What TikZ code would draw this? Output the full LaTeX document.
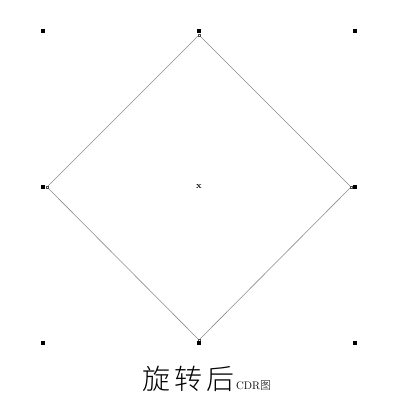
\documentclass[tikz,border=0pt]{standalone}
\usepackage{fontspec}
\newfontfamily\cjk{Noto Sans CJK SC Light}
\usetikzlibrary{positioning}

\begin{document}
\begin{tikzpicture}[x=1pt,y=-1pt,
        handle/.style={rectangle,fill=black,inner sep=0,minimum size=4pt},
        vtx/.style={rectangle,draw=black!70,line width=0.3pt,fill=white,inner sep=0,minimum size=2.5pt},
        side/.style={draw=black!45,line width=0.6pt}]
        \useasboundingbox (0,0) rectangle (400,406);
        % corner vertices of the rotated square
        \coordinate (t) at (199,35);
        \coordinate (r) at (351,187);
        \coordinate (b) at (199,340);
        \coordinate (l) at (47,187);
        \draw[side] (t) -- (r) -- (b) -- (l) -- cycle;
        \node[vtx] (tv) at (t) {};
        \node[vtx] (rv) at (r) {};
        \node[vtx] (bv) at (b) {};
        \node[vtx] (lv) at (l) {};
        % selection handles
        \node[handle] (h1) at (43,31) {};
        \node[handle] (h2) at (199,31) {};
        \node[handle] (h3) at (355,31) {};
        \node[handle] (h4) at (43,187) {};
        \node[handle] (h5) at (355,187) {};
        \node[handle] (h6) at (43,343) {};
        \node[handle] (h7) at (199,343) {};
        \node[handle] (h8) at (355,343) {};
        \node[inner sep=0] (c) at (199,187) {\fontsize{9}{9}\selectfont\bfseries x};
        % caption
        \node[anchor=base west,inner sep=0] (cap) at (142,389) {\cjk\fontsize{28}{28}\selectfont 旋\hspace{4pt}转\hspace{4pt}后};
        \node[inner sep=0,right=1.5pt of cap.base east,anchor=base west] (sub) {\fontsize{11}{11}\selectfont CDR{\cjk 图}};
\end{tikzpicture}
\end{document}
